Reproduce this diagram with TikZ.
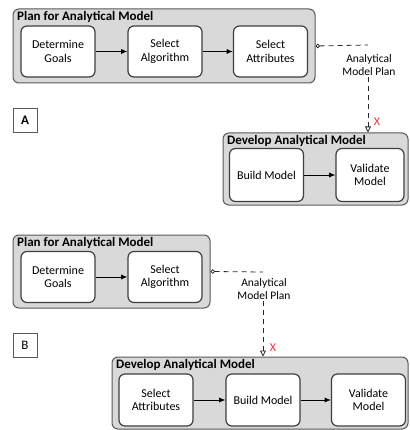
\documentclass[tikz,border=0pt]{standalone}
\usepackage{fontspec}
\setmainfont{Carlito}
\usetikzlibrary{arrows.meta,backgrounds}
\definecolor{grpFill}{HTML}{D9D9D9}
\definecolor{grpLine}{HTML}{595959}
\definecolor{boxLine}{HTML}{3F3F3F}
\definecolor{flagRed}{HTML}{F0323C}

\begin{document}
\begin{tikzpicture}[
  x=1pt,y=-1pt,
  font=\fontsize{12}{13.5}\selectfont,
  >={Latex[length=2.2mm,width=1.8mm]},
  grp/.style={draw=grpLine,fill=grpFill,line width=1pt,rounded corners=6pt,
              inner sep=0pt},
  grpTitle/.style={anchor=west,font=\fontsize{13}{14}\selectfont\bfseries,
                   inner sep=0pt},
  task/.style={draw=boxLine,fill=white,line width=1.2pt,rounded corners=6pt,
               align=center,minimum width=74pt,minimum height=51pt,inner sep=2pt},
  tag/.style={draw=grpLine,fill=white,line width=0.8pt,minimum width=24pt,
              minimum height=24pt,inner sep=0pt,font=\fontsize{13}{14}\selectfont},
  flow/.style={->,draw=black,line width=0.8pt},
  msg/.style={draw=black!85,dash pattern=on 5pt off 4pt,line width=0.8pt},
  msgOut/.style={msg,{Circle[open,length=4.5pt]}-},
  msgIn/.style={msg,-{Triangle[open,length=6pt,width=6pt]}},
  msgLbl/.style={align=center,inner sep=1pt,
                 font=\fontsize{11.5}{13.5}\selectfont},
  cross/.style={text=flagRed,font=\fontsize{12}{13}\selectfont,inner sep=0pt},
]
\useasboundingbox (0,0) rectangle (409,430);

% ---- variant A ------------------------------------------------------------
\node[grp,minimum width=302pt,minimum height=74pt] (planA) at (164,46) {};
\node[grpTitle] (planAt) at (17,17) {Plan for Analytical Model};
\node[task] (goalsA) at (58,51.5)  {Determine\\Goals};
\node[task] (algoA)  at (165,51.5) {Select\\Algorithm};
\node[task] (attrA)  at (270.5,51.5) {Select\\Attributes};

\node[tag,font=\fontsize{13}{14}\selectfont\bfseries] (tagA) at (25,120.5) {A};

\node[grp,minimum width=185pt,minimum height=72pt] (devA) at (315.5,169) {};
\node[grpTitle] (devAt) at (227,141) {Develop Analytical Model};
\node[task,minimum height=53pt] (buildA) at (266.5,175) {Build Model};
\node[task,minimum height=53pt,minimum width=68pt] (validA) at (370,175) {Validate\\Model};

\coordinate (bendA) at (368,45);
\node[msgLbl] (msgA) at (369,65) {Analytical\\Model Plan};
\node[cross] (xA) at (377,122) {X};

% ---- variant B ------------------------------------------------------------
\node[grp,minimum width=197pt,minimum height=73pt] (planB) at (111.5,271.5) {};
\node[grpTitle] (planBt) at (17,243) {Plan for Analytical Model};
\node[task] (goalsB) at (58,277)  {Determine\\Goals};
\node[task] (algoB)  at (165,277) {Select\\Algorithm};

\node[tag] (tagB) at (25,345.5) {B};

\node[grp,minimum width=296pt,minimum height=72pt] (devB) at (260,393) {};
\node[grpTitle] (devBt) at (116,365) {Develop Analytical Model};
\node[task,minimum height=52pt] (attrB)  at (156,400)   {Select\\Attributes};
\node[task,minimum height=52pt] (buildB) at (263,400)   {Build Model};
\node[task,minimum height=52pt] (validB) at (368.5,400) {Validate\\Model};

\coordinate (bendB) at (263,272);
\node[msgLbl] (msgB) at (264,289) {Analytical\\Model Plan};
\node[cross] (xB) at (273,348) {X};

% ---- connectors -------------------------------------------------------------
\draw[flow] (goalsA) -- (algoA);
\draw[flow] (algoA) -- (attrA);
\draw[flow] (buildA) -- (validA);
\draw[flow] (goalsB) -- (algoB);
\draw[flow] (attrB) -- (buildB);
\draw[flow] (buildB) -- (validB);

\begin{scope}[on background layer]
  \draw[msgOut] (planA.east) -- (bendA);
  \draw[msgIn] (msgA.south -| bendA) -- (bendA |- devA.north);
  \draw[msgOut] (planB.east) -- (bendB);
  \draw[msgIn] (msgB.south -| bendB) -- (bendB |- devB.north);
\end{scope}

\end{tikzpicture}
\end{document}
